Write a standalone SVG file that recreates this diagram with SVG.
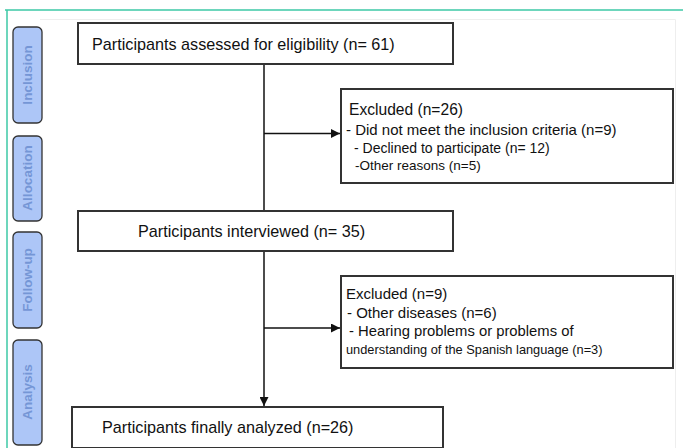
<svg xmlns="http://www.w3.org/2000/svg" width="683" height="448" viewBox="0 0 683 448">
<defs>
<marker id="ah" viewBox="0 0 10 10" refX="10" refY="5" markerWidth="9" markerHeight="9" markerUnits="userSpaceOnUse" orient="auto">
<path d="M0,0 L10,5 L0,10 z" fill="#111"/>
</marker>
<style>
.box{fill:#fff;stroke:#333;stroke-width:2}
.side{fill:#adc6f7;stroke:#333;stroke-width:1.3}
.sl{font-family:"Liberation Sans",Arial,sans-serif;font-weight:bold;font-size:13.5px;fill:#7596d6;text-anchor:middle}
.t{font-family:"Liberation Sans",Arial,sans-serif;font-size:16.2px;fill:#111}
.e{font-family:"Liberation Sans",Arial,sans-serif;font-size:15px;fill:#111}
.s{font-family:"Liberation Sans",Arial,sans-serif;font-size:14px;fill:#111}
.c{stroke:#111;stroke-width:1.5;fill:none}
</style>
</defs>
<rect width="683" height="448" fill="#fff"/>
<g id="frame">
<line x1="5" y1="10" x2="683" y2="10" stroke="#3cc9a6" stroke-width="1.5"/>
<line x1="7" y1="10" x2="7" y2="448" stroke="#3cc9a6" stroke-width="1.5"/>
<polyline points="40,19.5 675.5,19.5 675.5,448" fill="none" stroke="#eee" stroke-width="1"/>
</g>
<g id="side-inclusion"><rect class="side" x="13" y="27" width="29" height="96" rx="5"/><text class="sl" transform="translate(32,75) rotate(-90)">Inclusion</text></g>
<g id="side-allocation"><rect class="side" x="13" y="136" width="29" height="85" rx="5"/><text class="sl" transform="translate(32,178) rotate(-90)">Allocation</text></g>
<g id="side-followup"><rect class="side" x="13" y="232" width="29" height="96" rx="5"/><text class="sl" transform="translate(32,280) rotate(-90)">Follow-up</text></g>
<g id="side-analysis"><rect class="side" x="13" y="340" width="29" height="105" rx="5"/><text class="sl" transform="translate(32,392) rotate(-90)">Analysis</text></g>
<g id="connectors">
<line class="c" x1="264" y1="64" x2="264" y2="211"/>
<line class="c" x1="264" y1="133.5" x2="340" y2="133.5" marker-end="url(#ah)"/>
<line class="c" x1="264" y1="251" x2="264" y2="406" marker-end="url(#ah)"/>
<line class="c" x1="264" y1="328" x2="340" y2="328" marker-end="url(#ah)"/>
</g>
<g id="assessed"><rect class="box" x="78" y="23" width="375" height="41"/><text class="t" x="92" y="49.5">Participants assessed for eligibility (n= 61)</text></g>
<g id="excluded1"><rect class="box" x="341" y="89" width="332" height="94"/>
<text class="t" x="349" y="115" style="font-size:15.6px">Excluded (n=26)</text>
<text class="e" x="346" y="134.5">- Did not meet the inclusion criteria (n=9)</text>
<text class="s" x="354" y="152.5">- Declined to participate (n= 12)</text>
<text class="s" x="355" y="169.5" style="font-size:13.5px">-Other reasons (n=5)</text>
</g>
<g id="interviewed"><rect class="box" x="78" y="211" width="375" height="40"/><text class="t" x="138" y="237">Participants interviewed (n= 35)</text></g>
<g id="excluded2"><rect class="box" x="341" y="276" width="332" height="92"/>
<text class="e" x="346" y="299">Excluded (n=9)</text>
<text class="e" x="347" y="317.5">- Other diseases (n=6)</text>
<text class="s" x="349" y="336" style="font-size:14.8px">- Hearing problems or problems of</text>
<text class="s" x="346" y="354" style="font-size:12.8px">understanding of the Spanish language (n=3)</text>
</g>
<g id="analyzed"><rect class="box" x="72" y="407" width="371" height="41"/><text class="t" x="102" y="433">Participants finally analyzed (n=26)</text></g>
</svg>
